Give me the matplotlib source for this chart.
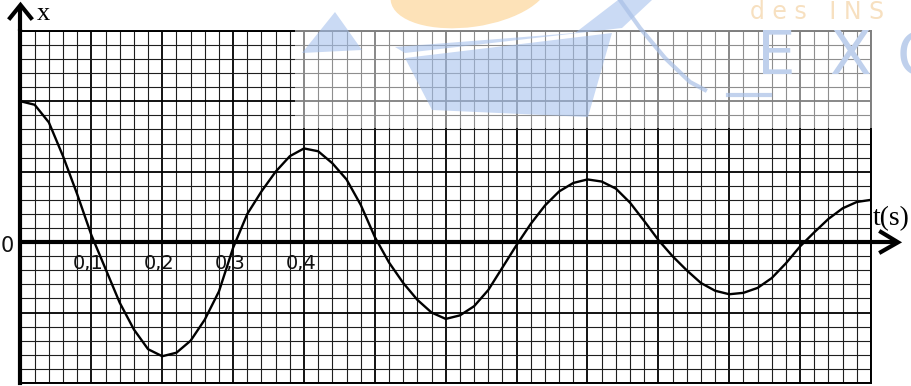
import matplotlib
matplotlib.use("Agg")
import matplotlib.pyplot as plt
from matplotlib.patches import Polygon, Ellipse, Rectangle
from matplotlib.ticker import MultipleLocator

# ---- data (t in s, x in grid cells) ----
t_s = [0.00, 0.02, 0.04, 0.06, 0.08, 0.10, 0.12, 0.14, 0.16, 0.18,
       0.20, 0.22, 0.24, 0.26, 0.28, 0.30, 0.32, 0.34, 0.36, 0.38,
       0.40, 0.42, 0.44, 0.46, 0.48, 0.50, 0.52, 0.54, 0.56, 0.58,
       0.60, 0.62, 0.64, 0.66, 0.68, 0.70, 0.72, 0.74, 0.76, 0.78,
       0.80, 0.82, 0.84, 0.86, 0.88, 0.90, 0.92, 0.94, 0.96, 0.98,
       1.00, 1.02, 1.04, 1.06, 1.08, 1.10, 1.12, 1.14, 1.16, 1.18, 1.20]
x_val = [10.0, 9.75, 8.5, 6.1, 3.4, 0.5, -1.9, -4.3, -6.2, -7.6,
         -8.1, -7.85, -7.0, -5.5, -3.5, -0.4, 2.0, 3.6, 5.0, 6.1,
         6.65, 6.45, 5.6, 4.45, 2.65, 0.36, -1.45, -2.9, -4.1, -5.0,
         -5.45, -5.2, -4.55, -3.4, -1.8, -0.2, 1.3, 2.6, 3.6, 4.2,
         4.45, 4.3, 3.8, 2.8, 1.5, 0.15, -1.0, -2.0, -2.9, -3.45,
         -3.7, -3.6, -3.25, -2.55, -1.5, -0.3, 0.7, 1.65, 2.4, 2.85, 3.0]

tick_t = [0.1, 0.2, 0.3, 0.4]
tick_labels = ["0,1", "0,2", "0,3", "0,4"]
t_range = (0.0, 1.2)
x_range = (-10, 15)

W, H = 912, 386
fig = plt.figure(figsize=(W / 100, H / 100), dpi=100)
fig.patch.set_facecolor("white")

# grid area in pixels
gx0, gx1 = 20.5, 871
gy_top, gy_bot = 30.8, 383
ax = fig.add_axes([gx0 / W, (H - gy_bot) / H, (gx1 - gx0) / W, (gy_bot - gy_top) / H])
ax.set_xlim(*t_range)
ax.set_ylim(*x_range)
ax.xaxis.set_major_locator(MultipleLocator(0.1))
ax.xaxis.set_minor_locator(MultipleLocator(0.02))
ax.yaxis.set_major_locator(MultipleLocator(5))
ax.yaxis.set_minor_locator(MultipleLocator(1))
ax.grid(which="minor", color="#1e1e1e", lw=0.8)
ax.grid(which="major", color="black", lw=1.3)
ax.set_axisbelow(True)
ax.tick_params(which="both", length=0, labelbottom=False, labelleft=False)
for side in ["top", "right", "bottom"]:
    ax.spines[side].set_linewidth(1.4)
    ax.spines[side].set_color("black")
ax.spines["left"].set_linewidth(3.0)
ax.spines["left"].set_color("black")

# horizontal time axis
ax.axhline(0, color="black", lw=3.0, zorder=3)

# curve
ax.plot(t_s, x_val, color="black", lw=1.7, zorder=5, solid_joinstyle="round")

# tick labels
for tt, lab in zip(tick_t, tick_labels):
    ax.text(tt - 0.004, -1.5, lab, ha="center", va="center", fontsize=14,
            family="DejaVu Sans", color="#111111", zorder=6)

# overlay in pixel coordinates for arrows, labels and watermark
ov = fig.add_axes([0, 0, 1, 1], zorder=10)
ov.set_xlim(0, W)
ov.set_ylim(H, 0)
ov.axis("off")
ov.patch.set_alpha(0)

# faint watermark
ov.add_patch(Rectangle((295, 0), W - 295, 128, facecolor="white", alpha=0.5, lw=0))
ov.add_patch(Ellipse((470, -10), 160, 74, angle=-8, facecolor="#FDDBA6", alpha=0.8, lw=0))
blue = "#9FBCEB"
ov.add_patch(Polygon([(335, 12), (302, 53), (362, 50)], closed=True,
                     facecolor=blue, alpha=0.55, lw=0))
ov.add_patch(Polygon([(395, 47), (575, 33), (618, 0), (652, 0), (622, 28), (405, 53)],
                     closed=True, facecolor=blue, alpha=0.55, lw=0))
ov.add_patch(Polygon([(405, 58), (612, 33), (588, 117), (432, 110)],
                     closed=True, facecolor=blue, alpha=0.55, lw=0))
ov.plot([620, 640, 665, 690, 705], [0, 28, 58, 82, 90], color="#A9C0E6", lw=3, alpha=0.7)
ov.plot([728, 770], [95, 95], color="#A9C0E6", lw=3, alpha=0.7)
for ch, cx in zip("EXC", [776, 850, 918]):
    ov.text(cx, 58, ch, fontsize=44, color="#BFD0EC", ha="center", va="center",
            family="DejaVu Sans", clip_on=True)
ov.text(750, 12, "d e s   I N S", fontsize=17, color="#F7E0C0", ha="left", va="center",
        family="DejaVu Sans", clip_on=True)

# axis arrows
ov.plot([871, 897], [242.3, 242.3], color="black", lw=3.0, solid_capstyle="butt")
ov.plot([881, 898, 881], [232, 242.3, 252], color="black", lw=3.0,
        solid_joinstyle="miter")
ov.plot([20.5, 20.5], [31, 6], color="black", lw=3.0, solid_capstyle="butt")
ov.plot([10, 20.5, 31], [18, 5, 18], color="black", lw=3.0, solid_joinstyle="miter")

# labels
ov.text(43, 20, "x", fontsize=19, family="Liberation Serif", ha="center", va="baseline")
ov.text(873, 225, "t(s)", fontsize=20, family="Liberation Serif", ha="left", va="baseline")
ov.text(7.5, 245.5, "0", fontsize=15, family="DejaVu Sans", ha="center", va="center",
        color="#111111")

fig.savefig("out.png", dpi=100, facecolor="white")
